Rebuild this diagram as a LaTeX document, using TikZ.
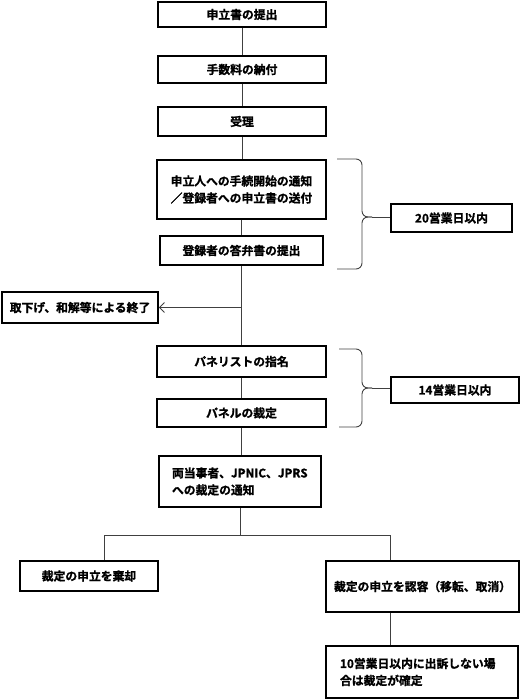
\documentclass[tikz,border=0pt]{standalone}
\usepackage{fontspec}
\newfontfamily\jpfont{Noto Sans CJK JP}[BoldFont={Noto Sans CJK JP Bold},BoldFeatures={FakeBold=1.2}]
\usetikzlibrary{arrows.meta}
\tikzset{
	box/.style = {
		rectangle,
		draw=black,
		line width=1.6pt,
		inner sep=0pt,
		align=center,
		text centered,
		font=\fontsize{11.8}{17}\selectfont\jpfont\bfseries
	},
	box_left/.style = {
		box,
		align=left
	},
	link/.style = {
		draw=black!75,
		line width=0.9pt
	},
	brace_line/.style = {
		link,
		rounded corners=6pt
	},
}
\begin{document}
\begin{tikzpicture}[x=1pt,y=-1pt,>={Straight Barb[length=5pt,width=10pt]}]
\useasboundingbox (0,0) rectangle (521,700);
% main column
\node [box, minimum width=168pt, minimum height=25pt] (n_apply) at (242,14.5) {申立書の提出};
\node [box, minimum width=168pt, minimum height=27pt] (n_fee) at (242,69.5) {手数料の納付};
\node [box, minimum width=168pt, minimum height=29pt] (n_receipt) at (242,121.5) {受理};
\node [box, minimum width=169pt, minimum height=59pt] (n_notice) at (241.5,189.5) {申立人への手続開始の通知\\／登録者への申立書の送付};
\node [box, minimum width=163pt, minimum height=29pt] (n_answer) at (241.5,250.5) {登録者の答弁書の提出};
\node [box, minimum width=156pt, minimum height=31pt] (n_withdraw) at (80,307.5) {取下げ、和解等による終了};
\node [box, minimum width=169pt, minimum height=31pt] (n_panelist) at (241.5,361.5) {パネリストの指名};
\node [box, minimum width=169pt, minimum height=28pt] (n_decision) at (241.5,413) {パネルの裁定};
\node [box_left, minimum width=162pt, minimum height=51pt, text width=136pt] (n_inform) at (240,481.5) {両当事者、JPNIC、JPRS\\への裁定の通知};
\node [box, minimum width=138pt, minimum height=30pt] (n_reject) at (89,576) {裁定の申立を棄却};
\node [box, minimum width=193pt, minimum height=51pt] (n_grant) at (422.5,586.5) {裁定の申立を認容（移転、取消）};
\node [box_left, minimum width=192pt, minimum height=52pt, text width=164pt] (n_final) at (422,672) {10営業日以内に出訴しない場\\合は裁定が確定};
% periods
\node [box, minimum width=121pt, minimum height=28pt] (n_days20) at (451.5,218) {20営業日以内};
\node [box, minimum width=128pt, minimum height=26pt] (n_days14) at (455,390) {14営業日以内};

\draw [link] (n_apply) -- (n_fee);
\draw [link] (n_fee) -- (n_receipt);
\draw [link] (n_receipt.south) -- (n_receipt.south |- n_notice.north);
\draw [link] (n_notice.south) -- (n_notice.south |- n_answer.north);
\draw [link] (n_answer.south) -- (n_answer.south |- n_panelist.north);
\coordinate (c_split) at (n_answer.south |- n_withdraw.east);
\draw [link, ->] (c_split) -- (n_withdraw.east);
\draw [link] (n_panelist) -- (n_decision);
\draw [link] (n_decision.south) -- (n_decision.south |- n_inform.north);
\coordinate (c_fork) at (n_inform.south |- 0,535);
\draw [link] (n_inform.south) -- (c_fork);
\draw [link] (c_fork) -| ([xshift=15pt]n_reject.north);
\draw [link] (c_fork) -| ([xshift=-32pt]n_grant.north);
\draw [link] ([xshift=-32pt]n_grant.south) -- ([xshift=-32pt]n_grant.south |- n_final.north);

% braces
\coordinate (c_brace20) at (372,217);
\draw [brace_line] (337,159) -| (362,217) -- (c_brace20);
\draw [brace_line] (337,269) -| (362,217) -- (c_brace20);
\draw [link] (c_brace20) -- (c_brace20 -| n_days20.west);
\coordinate (c_brace14) at (372,388);
\draw [brace_line] (339,349) -| (362,388) -- (c_brace14);
\draw [brace_line] (339,427) -| (362,388) -- (c_brace14);
\draw [link] (c_brace14) -- (c_brace14 -| n_days14.west);
\end{tikzpicture}
\end{document}
